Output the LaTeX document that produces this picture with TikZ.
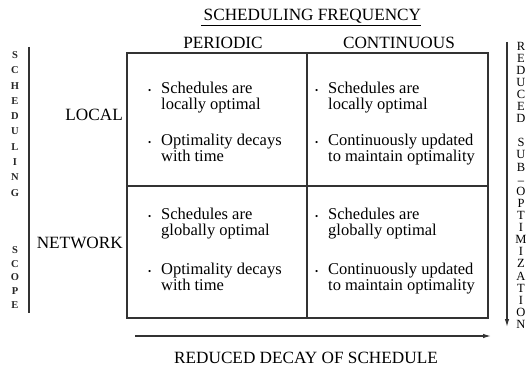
\documentclass[tikz,border=0pt]{standalone}
\usepackage{fontspec}
\setmainfont{Liberation Serif}
\usetikzlibrary{arrows.meta}

\tikzset{
  gridline/.style={line width=1.4pt, draw=black!80},
  head/.style={font=\fontsize{17.2}{18}\selectfont, inner sep=0pt, anchor=base},
  cell/.style={font=\fontsize{16.5}{16}\selectfont, align=left, anchor=base west, inner sep=0pt},
  letter/.style={font=\fontsize{12.5}{12.5}\selectfont, inner sep=0pt},
  smallletter/.style={font=\fontsize{10.5}{10.5}\selectfont\bfseries, text=black!85, inner sep=0pt},
  axis/.style={line width=1.2pt, draw=black!80, -{Latex[length=8pt,width=4.5pt]}},
}

% bullet hung into the left margin of a cell entry
\newcommand\bul{\llap{{\fontsize{9}{9}\selectfont\textbullet}\hspace{10pt}}}

\begin{document}
\begin{tikzpicture}[x=1pt, y=-1pt]
  \useasboundingbox (0,0) rectangle (529,366);

  % headings
  \node[head] (freq) at (311,21) {\underline{\,SCHEDULING FREQUENCY}};
  \node[head] (per) at (223,49) {PERIODIC};
  \node[head] (cont) at (399,49) {CONTINUOUS};
  \node[head, anchor=base east] (local) at (123,121) {LOCAL};
  \node[head, anchor=base east] (net) at (123,248) {NETWORK};
  \node[head] (decay) at (306,363) {REDUCED DECAY OF SCHEDULE};

  % the 2x2 table
  \coordinate (nw) at (127,53);
  \coordinate (se) at (488,318);
  \coordinate (midt) at (307,53);
  \coordinate (midb) at (307,318);
  \coordinate (midl) at (127,186);
  \coordinate (midr) at (488,186);
  \draw[gridline] (nw) rectangle (se);
  \draw[gridline] (midt) -- (midb);
  \draw[gridline] (midl) -- (midr);

  % cell entries (base = baseline of the second line)
  \node[cell] (p1a) at (161,110) {\bul Schedules are\\locally optimal};
  \node[cell] (p1b) at (161,161) {\bul Optimality decays\\with time};
  \node[cell] (c1a) at (328,110) {\bul Schedules are\\locally optimal};
  \node[cell] (c1b) at (328,161) {\bul Continuously updated\\to maintain optimality};
  \node[cell] (p2a) at (161,235) {\bul Schedules are\\globally optimal};
  \node[cell] (p2b) at (161,290) {\bul Optimality decays\\with time};
  \node[cell] (c2a) at (328,235) {\bul Schedules are\\globally optimal};
  \node[cell] (c2b) at (328,290) {\bul Continuously updated\\to maintain optimality};

  % left side: scheduling scope
  \coordinate (lt) at (29,47);
  \coordinate (lb) at (29,313);
  \draw[gridline, line width=1.3pt] (lt) -- (lb);
  \foreach \ch [count=\i] in {S,C,H,E,D,U,L,I,N,G}
    \node[smallletter] (sch\i) at (15,{55+15.3*(\i-1)}) {\ch};
  \foreach \ch [count=\i] in {S,C,O,P,E}
    \node[smallletter] (sco\i) at (15,{250+13.75*(\i-1)}) {\ch};

  % right side: reduced sub-optimization
  \coordinate (rt) at (507,42);
  \coordinate (rb) at (507,327);
  \draw[axis] (rt) -- (rb);
  \foreach \ch [count=\i] in {R,E,D,U,C,E,D,{},S,U,B}
    \node[letter] (sub\i) at (521,{46+12.1*(\i-1)}) {\ch};
  \node[letter] (dash) at (521,182.5) {--};
  \foreach \ch [count=\i] in {O,P,T,I,M,I,Z,A,T,I,O,N}
    \node[letter] (opt\i) at (521,{191.2+12.1*(\i-1)}) {\ch};

  % bottom axis
  \coordinate (bl) at (135,336);
  \coordinate (br) at (491,336);
  \draw[axis] (bl) -- (br);
\end{tikzpicture}
\end{document}
